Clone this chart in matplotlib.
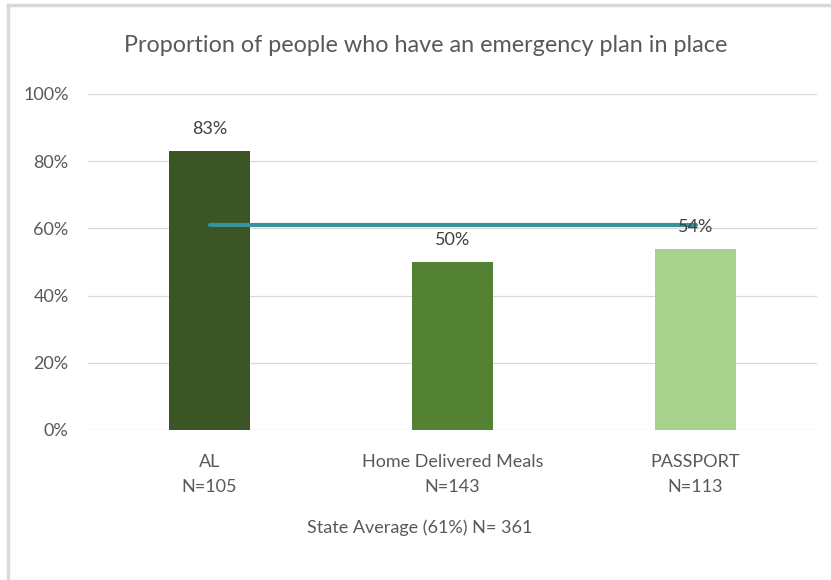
import matplotlib.pyplot as plt
from matplotlib.lines import Line2D
from matplotlib.ticker import PercentFormatter

plt.rcParams['font.family'] = ['Lato', 'DejaVu Sans']

programs = ['AL', 'Home Delivered Meals', 'PASSPORT']
sample_sizes = [105, 143, 113]
pct_with_plan = [83, 50, 54]
state_avg = [61, 61, 61]
bar_colors = ['#3B5524', '#548235', '#A9D18E']

text_gray = '#595959'

fig = plt.figure(figsize=(8.31, 5.8), dpi=100)
ax = fig.add_axes([88 / 831, 150 / 580, 729 / 831, 336 / 580])

x = range(len(programs))
ax.bar(x, pct_with_plan, width=0.33, color=bar_colors, zorder=2)
ax.plot(x, state_avg, color='#35939A', lw=3, solid_capstyle='round', zorder=3)

for i, v in enumerate(pct_with_plan):
    ax.annotate(f'{v}%', (i, v), xytext=(0, 10), textcoords='offset points',
                ha='center', va='bottom', fontsize=13, color='#404040', zorder=4)

ax.set_xlim(-0.5, 2.5)
ax.set_ylim(0, 100)
ax.set_yticks(range(0, 101, 20))
ax.yaxis.set_major_formatter(PercentFormatter(decimals=0))
ax.set_xticks(list(x))
ax.set_xticklabels([f'{p}\nN={n}' for p, n in zip(programs, sample_sizes)],
                   linespacing=1.75)
ax.tick_params(axis='both', length=0, labelsize=13, labelcolor=text_gray)
ax.tick_params(axis='x', pad=17)
ax.tick_params(axis='y', pad=14)
ax.grid(axis='y', color='#D9D9D9', lw=0.9, zorder=0)
for s in ax.spines.values():
    s.set_visible(False)

fig.text(426 / 831, 1 - 45 / 580, 'Proportion of people who have an emergency plan in place',
         ha='center', va='center', fontsize=16.8, color=text_gray)
fig.text(420 / 831, 1 - 528 / 580, 'State Average (61%) N= 361',
         ha='center', va='center', fontsize=13, color=text_gray)

# chart frame edges (top and left only)
fig.add_artist(Line2D([8 / 831, 1], [1 - 5 / 580] * 2, transform=fig.transFigure,
                      color='#D9D9D9', lw=2.5))
fig.add_artist(Line2D([8 / 831] * 2, [0, 1 - 5 / 580], transform=fig.transFigure,
                      color='#D9D9D9', lw=2.5))

fig.savefig('out.png', dpi=100)
